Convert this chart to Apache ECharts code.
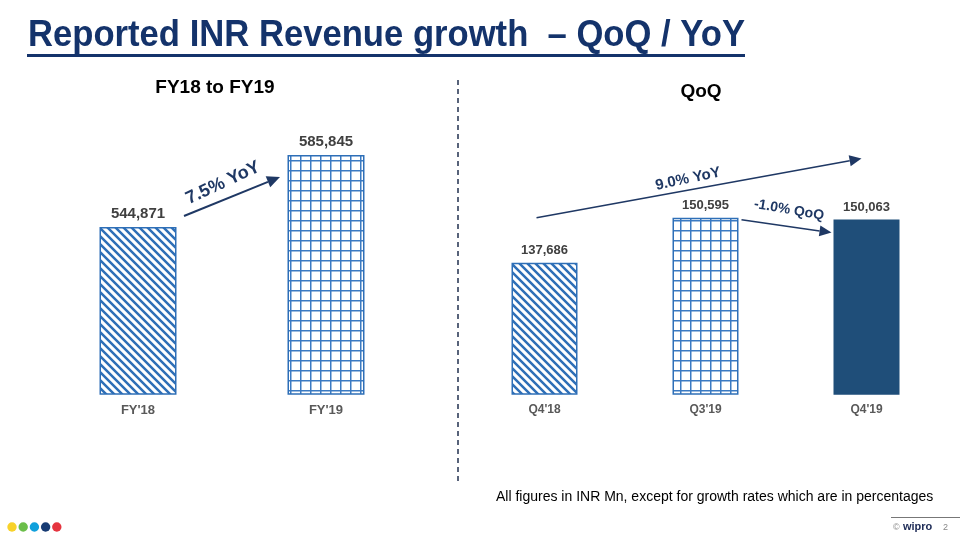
<!DOCTYPE html>
<html>
<head>
<meta charset="utf-8">
<script src="https://cdn.jsdelivr.net/npm/echarts@6/dist/echarts.min.js"></script>
<style>html,body{margin:0;padding:0;background:#fff}#c{width:960px;height:540px}</style>
</head>
<body>
<div id="c"></div>
<script>
// ---- data ----
const annualCats = ["FY'18", "FY'19"];
const annualVals = [544871, 585845];
const quarterCats = ["Q4'18", "Q3'19", "Q4'19"];
const quarterVals = [137686, 150595, 150063];
const yoyAnnual = "7.5% YoY";
const yoyQuarter = "9.0% YoY";
const qoqQuarter = "-1.0% QoQ";

const FONT = "'Liberation Sans', Arial, sans-serif";
const NAVY = '#1F3864';
const BLUE = '#2E6FB7';

function hatchPattern() {
  const c = document.createElement('canvas');
  c.width = 8; c.height = 8;
  const g = c.getContext('2d');
  g.fillStyle = '#fff'; g.fillRect(0, 0, 8, 8);
  g.strokeStyle = BLUE; g.lineWidth = 2.5; g.lineCap = 'square';
  g.beginPath();
  g.moveTo(-2, -2); g.lineTo(10, 10);
  g.moveTo(-2, 6); g.lineTo(2, 10);
  g.moveTo(6, -2); g.lineTo(10, 2);
  g.stroke();
  return c;
}
function gridPattern() {
  const c = document.createElement('canvas');
  c.width = 10; c.height = 10;
  const g = c.getContext('2d');
  g.fillStyle = '#fff'; g.fillRect(0, 0, 10, 10);
  g.fillStyle = '#3B7AC2';
  g.fillRect(0, 0, 10, 1.5);
  g.fillRect(0, 0, 1.5, 10);
  return c;
}
const hatch = { image: hatchPattern(), repeat: 'repeat' };
const gridFill = { image: gridPattern(), repeat: 'repeat' };
const fillsAnnual = [hatch, gridFill];
const fillsQuarter = [hatch, gridFill, '#1F4E79'];

const fmt = v => v.toLocaleString('en-US');

const chart = echarts.init(document.getElementById('c'), null, { renderer: 'canvas' });

const catAxis = (idx, data, size) => ({
  type: 'category', gridIndex: idx, data: data,
  axisLine: { show: false }, axisTick: { show: false },
  axisLabel: { color: '#595959', fontWeight: 'bold', fontSize: size, fontFamily: FONT, margin: 10 }
});
const valAxis = (idx, min, max) => ({
  type: 'value', gridIndex: idx, min: min, max: max, show: false, splitLine: { show: false }
});

chart.setOption({
  animation: false,
  backgroundColor: '#fff',
  grid: [
    { left: 44, width: 376, top: 130, height: 264 },
    { left: 464, width: 483, top: 185, height: 209 }
  ],
  xAxis: [catAxis(0, annualCats, 13), catAxis(1, quarterCats, 12)],
  yAxis: [valAxis(0, 450000, 600000), valAxis(1, 100000, 160000)],
  series: [
    {
      type: 'bar', xAxisIndex: 0, yAxisIndex: 0, barWidth: 77,
      data: annualVals.map((v, i) => ({
        value: v,
        itemStyle: { color: fillsAnnual[i], borderColor: BLUE, borderWidth: 1.5 }
      })),
      label: { show: true, position: 'top', distance: 6, formatter: p => fmt(p.value),
        color: '#404040', fontWeight: 'bold', fontSize: 15, fontFamily: FONT }
    },
    {
      type: 'bar', xAxisIndex: 1, yAxisIndex: 1, barWidth: 66,
      data: quarterVals.map((v, i) => ({
        value: v,
        itemStyle: { color: fillsQuarter[i], borderColor: i === 2 ? '#1F4E79' : BLUE, borderWidth: 1.5 }
      })),
      label: { show: true, position: 'top', distance: 6, formatter: p => fmt(p.value),
        color: '#404040', fontWeight: 'bold', fontSize: 13, fontFamily: FONT }
    }
  ]
});

function arrow(x1, y1, x2, y2, w, headLen, headW) {
  const a = Math.atan2(y2 - y1, x2 - x1);
  const bx = x2 - headLen * Math.cos(a), by = y2 - headLen * Math.sin(a);
  const nx = -Math.sin(a) * headW, ny = Math.cos(a) * headW;
  return [
    { type: 'line', shape: { x1, y1, x2: bx, y2: by }, style: { stroke: NAVY, lineWidth: w } },
    { type: 'polygon', shape: { points: [[x2, y2], [bx + nx, by + ny], [bx - nx, by - ny]] }, style: { fill: NAVY } }
  ];
}
function rotText(txt, cx, cy, deg, size) {
  return { type: 'text', x: cx, y: cy, rotation: deg * Math.PI / 180,
    style: { text: txt, fill: NAVY, font: 'bold ' + size + 'px ' + FONT, align: 'center', verticalAlign: 'middle' } };
}

const pA = annualCats.map((c, i) => chart.convertToPixel({ xAxisIndex: 0, yAxisIndex: 0 }, [c, annualVals[i]]));
const pQ = quarterCats.map((c, i) => chart.convertToPixel({ xAxisIndex: 1, yAxisIndex: 1 }, [c, quarterVals[i]]));

const g = [];
// title
g.push({ type: 'text', x: 28, y: 36, scaleX: 0.962, style: { text: 'Reported INR Revenue growth  \u2013 QoQ / YoY', fill: '#14336B',
  font: 'bold 36px ' + FONT, verticalAlign: 'middle' } });
g.push({ type: 'line', shape: { x1: 27, y1: 55.5, x2: 745, y2: 55.5 }, style: { stroke: '#14336B', lineWidth: 3 } });
// panel headings
g.push({ type: 'text', x: 215, y: 88, style: { text: 'FY18 to FY19', fill: '#000', font: 'bold 19px ' + FONT, align: 'center', verticalAlign: 'middle' } });
g.push({ type: 'text', x: 701, y: 92, style: { text: 'QoQ', fill: '#000', font: 'bold 19px ' + FONT, align: 'center', verticalAlign: 'middle' } });
// divider
g.push({ type: 'line', shape: { x1: 458, y1: 80, x2: 458, y2: 483 }, style: { stroke: '#58637A', lineWidth: 2, lineDash: [5, 4] } });
// arrows
g.push(...arrow(pA[0][0] + 46, pA[0][1] - 11, pA[1][0] - 46, pA[1][1] + 22, 2, 13, 6));
g.push(rotText(yoyAnnual, (pA[0][0] + pA[1][0]) / 2 - 9, (pA[0][1] + pA[1][1]) / 2 - 8, 25, 18));
g.push(...arrow(pQ[0][0] - 8, pQ[0][1] - 45, pQ[2][0] - 5, pQ[2][1] - 61, 1.6, 12, 5.5));
g.push(rotText(yoyQuarter, 688, 179, 12, 15));
g.push(...arrow(pQ[1][0] + 36, pQ[1][1] + 2, pQ[2][0] - 35, pQ[2][1] + 13, 1.6, 12, 5.5));
g.push(rotText(qoqQuarter, 789, 210, -10, 14));
// footnote
g.push({ type: 'text', x: 496, y: 497, style: { text: 'All figures in INR Mn, except for growth rates which are in percentages',
  fill: '#000', font: '14px ' + FONT, verticalAlign: 'middle' } });
// dots
['#F8D22A', '#6BBE4A', '#10A0DC', '#173B73', '#E5343F'].forEach((c, i) => {
  g.push({ type: 'circle', shape: { cx: 12 + i * 11.2, cy: 527, r: 4.7 }, style: { fill: c } });
});
// wipro footer
g.push({ type: 'line', shape: { x1: 891, y1: 517.5, x2: 960, y2: 517.5 }, style: { stroke: '#777', lineWidth: 1 } });
g.push({ type: 'text', x: 893, y: 528, style: { text: '\u00A9', fill: '#888', font: '9px ' + FONT, verticalAlign: 'middle' } });
g.push({ type: 'text', x: 903, y: 527, style: { text: 'wipro', fill: '#1C2A55', font: 'bold 11px ' + FONT, verticalAlign: 'middle' } });
g.push({ type: 'text', x: 943, y: 528, style: { text: '2', fill: '#888', font: '9px ' + FONT, verticalAlign: 'middle' } });

chart.setOption({ graphic: g });
</script>
</body>
</html>
